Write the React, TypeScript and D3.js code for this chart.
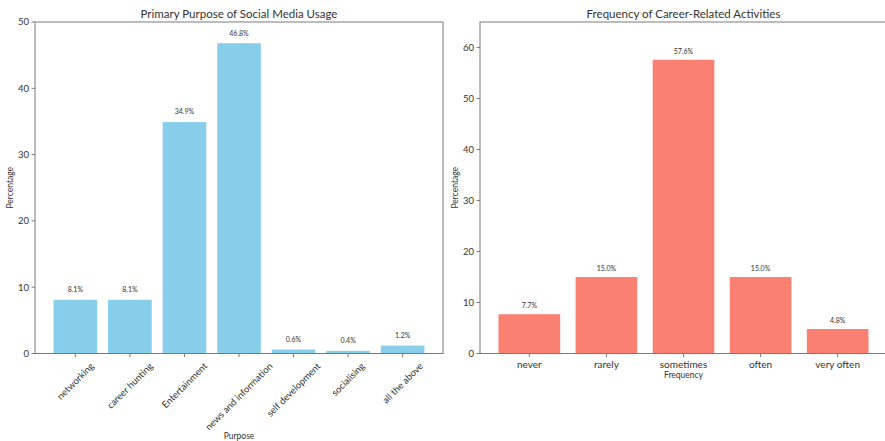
import React from "react";
import * as d3 from "d3";

const purposeCategories = [
  "networking",
  "career hunting",
  "Entertainment",
  "news and information",
  "self development",
  "socialising",
  "all the above",
];
const purposeValues = [8.1, 8.1, 34.9, 46.8, 0.6, 0.4, 1.2];
const purposeTicks = [0, 10, 20, 30, 40, 50];

const freqCategories = ["never", "rarely", "sometimes", "often", "very often"];
const freqValues = [7.7, 15.0, 57.6, 15.0, 4.8];
const freqTicks = [0, 10, 20, 30, 40, 50, 60];

const FONT = "Lato, 'Open Sans', sans-serif";
const TEXT = "#333";
const FRAME = "#7a7a7a";

let ctx: CanvasRenderingContext2D | null = null;
function measure(text: string, size: number): number {
  if (!ctx) {
    const c = document.createElement("canvas");
    ctx = c.getContext("2d");
  }
  if (!ctx) return text.length * size * 0.5;
  ctx.font = `${size}px Lato`;
  return ctx.measureText(text).width;
}

type PanelProps = {
  categories: string[];
  values: number[];
  ticks: number[];
  yMax: number;
  x0: number;
  x1: number;
  top: number;
  bottom: number;
  paddingOuter: number;
  color: string;
  title: string;
  xLabel: string;
  rotate: boolean;
  xLabelY: number;
  yLabelX: number;
};

function Panel(p: PanelProps) {
  const x = d3
    .scaleBand<string>()
    .domain(p.categories)
    .range([p.x0, p.x1])
    .paddingInner(0.2)
    .paddingOuter(p.paddingOuter);
  const y = d3.scaleLinear().domain([0, p.yMax]).range([p.bottom, p.top]);
  const step = x.step();
  const bw = x.bandwidth();
  const tickFont = 9.5;
  const cx = (p.x0 + p.x1) / 2;
  const cy = (p.top + p.bottom) / 2;
  return (
    <g fontFamily={FONT}>
      {p.categories.map((c, i) => (
        <rect
          key={c}
          x={x(c)!}
          y={y(p.values[i])}
          width={bw}
          height={y(0) - y(p.values[i])}
          fill={p.color}
        />
      ))}
      {p.categories.map((c, i) => (
        <text
          key={"v" + c}
          x={x(c)! + bw / 2}
          y={y(p.values[i] + 1)}
          dy={-1}
          textAnchor="middle"
          fontSize={7}
          fill={TEXT}
        >
          {p.values[i].toFixed(1) + "%"}
        </text>
      ))}
      <rect
        x={p.x0}
        y={p.top}
        width={p.x1 - p.x0}
        height={p.bottom - p.top}
        fill="none"
        stroke={FRAME}
        strokeWidth={1}
      />
      {p.ticks.map((t) => (
        <g key={"y" + t}>
          <line x1={p.x0 - 3.5} x2={p.x0} y1={y(t)} y2={y(t)} stroke={FRAME} />
          <text
            x={p.x0 - 6}
            y={y(t)}
            dy="0.35em"
            textAnchor="end"
            fontSize={tickFont}
            fill={TEXT}
          >
            {t}
          </text>
        </g>
      ))}
      {p.categories.map((c) => {
        const tx = x(c)! + bw / 2;
        const yTop = p.bottom + 3.5;
        let label;
        if (p.rotate) {
          const w = measure(c, tickFont);
          const h = tickFont;
          const bh = (w + h) * Math.SQRT1_2;
          const ccy = yTop + 4 + bh / 2;
          label = (
            <text
              x={tx}
              y={ccy}
              dy="0.35em"
              textAnchor="middle"
              fontSize={tickFont}
              fill={TEXT}
              transform={`rotate(-45 ${tx} ${ccy})`}
            >
              {c}
            </text>
          );
        } else {
          label = (
            <text
              x={tx}
              y={yTop + 3}
              dy="0.75em"
              textAnchor="middle"
              fontSize={tickFont + 0.5}
              fill={TEXT}
            >
              {c}
            </text>
          );
        }
        return (
          <g key={"x" + c}>
            <line x1={tx} x2={tx} y1={p.bottom} y2={yTop} stroke={FRAME} />
            {label}
          </g>
        );
      })}
      <text
        x={cx}
        y={14}
        dy="0.35em"
        textAnchor="middle"
        fontSize={11.5}
        fill={TEXT}
      >
        {p.title}
      </text>
      <text
        x={cx}
        y={p.xLabelY}
        dy="0.35em"
        textAnchor="middle"
        fontSize={8.5}
        fill={TEXT}
      >
        {p.xLabel}
      </text>
      <text
        transform={`translate(${p.yLabelX},${cy}) rotate(-90)`}
        dy="0.35em"
        textAnchor="middle"
        fontSize={8.5}
        fill={TEXT}
      >
        Percentage
      </text>
      {step > 0 ? null : null}
    </g>
  );
}

export default function App() {
  return (
    <svg
      width={885}
      height={441}
      style={{ position: "absolute", left: 0, top: 0, background: "#fff" }}
    >
      <rect width={885} height={441} fill="#fff" />
      <Panel
        categories={purposeCategories}
        values={purposeValues}
        ticks={purposeTicks}
        yMax={50}
        x0={35}
        x1={443}
        top={22}
        bottom={353.5}
        paddingOuter={0.34}
        color="#87CEEB"
        title="Primary Purpose of Social Media Usage"
        xLabel="Purpose"
        rotate={true}
        xLabelY={436}
        yLabelX={10}
      />
      <Panel
        categories={freqCategories}
        values={freqValues}
        ticks={freqTicks}
        yMax={65}
        x0={480}
        x1={887}
        top={22}
        bottom={353.5}
        paddingOuter={0.24}
        color="#FA8072"
        title="Frequency of Career-Related Activities"
        xLabel="Frequency"
        rotate={false}
        xLabelY={375}
        yLabelX={455}
      />
    </svg>
  );
}
